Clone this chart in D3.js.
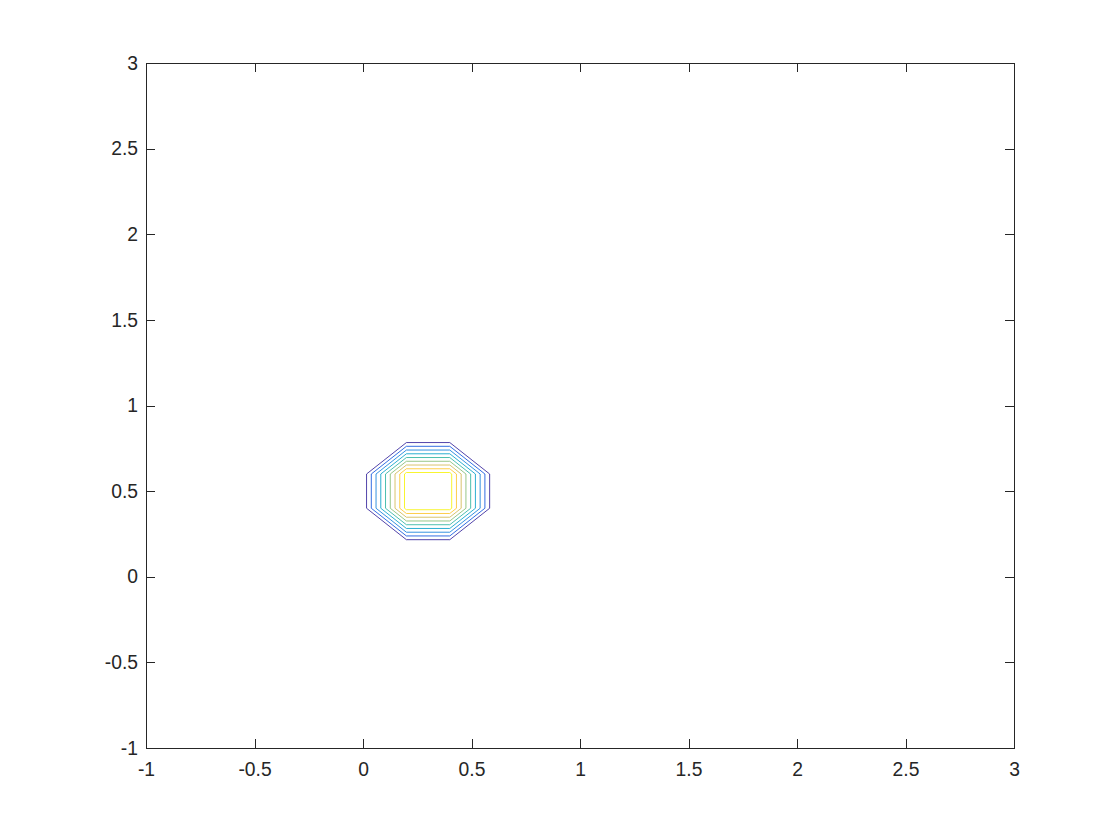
<!DOCTYPE html>
<html>
<head>
<meta charset="utf-8">
<script src="https://cdn.jsdelivr.net/npm/d3@7"></script>
<style>
  html, body { margin: 0; padding: 0; background: #ffffff; }
  svg { display: block; }
  text { font-family: "Liberation Sans", Arial, Helvetica, sans-serif; }
</style>
</head>
<body>
<svg id="chart" width="1120" height="840"></svg>
<script>
// ---- data ----
const xTicks = [-1, -0.5, 0, 0.5, 1, 1.5, 2, 2.5, 3];
const yTicks = [-1, -0.5, 0, 0.5, 1, 1.5, 2, 2.5, 3];
const xTickLabels = ["-1", "-0.5", "0", "0.5", "1", "1.5", "2", "2.5", "3"];
const yTickLabels = ["-1", "-0.5", "0", "0.5", "1", "1.5", "2", "2.5", "3"];
const xDomain = [-1, 3];
const yDomain = [-1, 3];
// grid on which the surface is sampled
const gridX = [-0.2, 0, 0.2, 0.4, 0.6, 0.8];
const gridY = [0, 0.2, 0.4, 0.6, 0.8, 1.0];
// z values, one row per gridY entry
const zRows = [
  [0, 0,     0,     0,     0,     0],
  [0, 0,     0.025, 0.025, 0,     0],
  [0, 0.025, 0.94,  0.94,  0.025, 0],
  [0, 0.025, 0.94,  0.94,  0.025, 0],
  [0, 0,     0.025, 0.025, 0,     0],
  [0, 0,     0,     0,     0,     0]
];
const levels = [0.1, 0.2, 0.3, 0.4, 0.5, 0.6, 0.7, 0.8, 0.9];

// ---- layout ----
const svg = d3.select("#chart");
const mLeft = 146, mRight = 1014, mTop = 63, mBottom = 748;
const axisColor = "#262626";

const x = d3.scaleLinear().domain(xDomain).range([mLeft, mRight]);
const y = d3.scaleLinear().domain(yDomain).range([mBottom, mTop]);

// parula colormap stops
const parula = d3.piecewise(d3.interpolateRgb, [
  "#3e2fa0", "#1c5ee0", "#1f86dc", "#14a6cc", "#38b8a6",
  "#8cc07a", "#d4bc5c", "#fdc838", "#f7f418"
]);
const levelColor = d3.scaleLinear().domain([levels[0], levels[levels.length - 1]]).range([0, 1]);

// contours
const nx = gridX.length, ny = gridY.length;
const flat = [];
zRows.forEach(r => r.forEach(v => flat.push(v)));
const contours = d3.contours().size([nx, ny]).thresholds(levels)(flat);

const gx = d3.scaleLinear().domain([0.5, nx - 0.5]).range([gridX[0], gridX[nx - 1]]);
const gy = d3.scaleLinear().domain([0.5, ny - 0.5]).range([gridY[0], gridY[ny - 1]]);
const proj = d3.geoTransform({
  point: function(px, py) { this.stream.point(x(gx(px)), y(gy(py))); }
});
const path = d3.geoPath(proj);

const plot = svg.append("g");
plot.selectAll("path.contour")
  .data(contours)
  .enter().append("path")
  .attr("class", "contour")
  .attr("d", path)
  .attr("fill", "none")
  .attr("stroke", d => parula(levelColor(d.value)))
  .attr("stroke-width", 0.9)
  .attr("stroke-linejoin", "round");

// ---- axes (box with inward ticks on all sides) ----
const tickLen = 8.7;
const axes = svg.append("g");

const bottomAxis = d3.axisBottom(x).tickValues(xTicks).tickSizeInner(-tickLen).tickSizeOuter(0)
  .tickPadding(14).tickFormat((d, i) => xTickLabels[i]);
const topAxis = d3.axisTop(x).tickValues(xTicks).tickSizeInner(-tickLen).tickSizeOuter(0).tickFormat("");
const leftAxis = d3.axisLeft(y).tickValues(yTicks).tickSizeInner(-tickLen).tickSizeOuter(0)
  .tickPadding(8).tickFormat((d, i) => yTickLabels[i]);
const rightAxis = d3.axisRight(y).tickValues(yTicks).tickSizeInner(-tickLen).tickSizeOuter(0).tickFormat("");

function style(g) {
  g.attr("font-size", null).attr("font-family", null);
  g.selectAll("path.domain").attr("stroke", axisColor).attr("stroke-width", 1).attr("shape-rendering", "crispEdges");
  g.selectAll(".tick line").attr("stroke", axisColor).attr("stroke-width", 1).attr("shape-rendering", "crispEdges");
  g.selectAll(".tick text").attr("fill", axisColor)
    .style("font-size", "19.3px")
    .style("font-family", '"Liberation Sans", Arial, Helvetica, sans-serif');
}

axes.append("g").attr("transform", `translate(0,${mBottom})`).call(bottomAxis).call(style);
axes.append("g").attr("transform", `translate(0,${mTop})`).call(topAxis).call(style);
axes.append("g").attr("transform", `translate(${mLeft},0)`).call(leftAxis).call(style);
axes.append("g").attr("transform", `translate(${mRight},0)`).call(rightAxis).call(style);
</script>
</body>
</html>
